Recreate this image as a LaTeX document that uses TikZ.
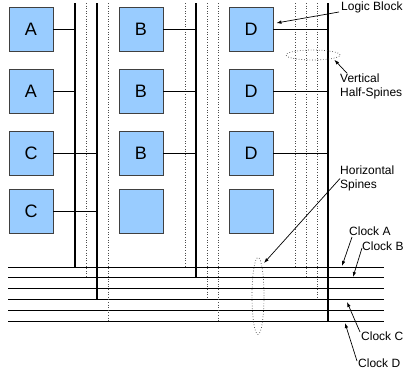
\documentclass[tikz,border=0pt]{standalone}
\usepackage{fontspec}
\setmainfont{Liberation Sans}
\usetikzlibrary{arrows.meta,shadows,shapes.geometric}

\definecolor{blockblue}{HTML}{99CCFF}

\begin{document}
\begin{tikzpicture}[x=1pt, y=-1pt,
	every node/.style={font=\fontsize{12}{14}\selectfont},
	>={Latex[length=5pt,width=3.5pt]},
	lblock/.style={draw=black!75, line width=0.8pt, fill=blockblue, minimum size=44pt, inner sep=0pt,
		font=\fontsize{18}{20}\selectfont, drop shadow={shadow xshift=1pt, shadow yshift=-1pt, opacity=0.3, fill=black}},
	spine/.style={line width=2pt},
	halfspine/.style={dotted, line width=0.6pt, black!70},
	clockline/.style={line width=0.9pt},
	tap/.style={line width=0.7pt},
	ring/.style={draw, ellipse, dotted, line width=0.7pt, black!75, inner sep=0pt},
	note/.style={align=left, inner sep=0pt, anchor=west}]
	\useasboundingbox (0,0) rectangle (405,373);
	% the clock lines
	\foreach \i/\y in {1/267,2/277.8,3/288.6,4/299.4,5/310.2,6/321}
		\draw[clockline] (8,\y) coordinate (hw\i) -- (384,\y) coordinate (he\i);
	% the vertical spines, each one down to its clock line
	\foreach \x/\h/\s [count=\k] in {75/1/spine, 86/2/halfspine, 97/4/spine, 108/6/halfspine,
		185/1/halfspine, 196/2/spine, 207/4/halfspine, 218/6/halfspine,
		295/1/halfspine, 306/2/halfspine, 317/4/halfspine, 328/6/spine} {
		\coordinate (v\k) at (\x,3);
		\draw[\s] (v\k) -- (v\k |- hw\h);
	}
	% the logic blocks
	\node[lblock] (a1) at (31,29) {A};
	\node[lblock] (a2) at (31,91) {A};
	\node[lblock] (c1) at (31,153) {C};
	\node[lblock] (c2) at (31,211) {C};
	\node[lblock] (b1) at (141,29) {B};
	\node[lblock] (b2) at (141,91) {B};
	\node[lblock] (b3) at (141,153) {B};
	\node[lblock] (e1) at (141,211) {};
	\node[lblock] (d1) at (251,29) {D};
	\node[lblock] (d2) at (251,91) {D};
	\node[lblock] (d3) at (251,153) {D};
	\node[lblock] (e2) at (251,211) {};
	% taps from the blocks to their spines
	\draw[tap] (a1.east) -- (a1.east -| v1);
	\draw[tap] (a2.east) -- (a2.east -| v1);
	\draw[tap] (c1.east) -- (c1.east -| v3);
	\draw[tap] (c2.east) -- (c2.east -| v3);
	\foreach \n in {b1,b2,b3}
		\draw[tap] (\n.east) -- (\n.east -| v6);
	\foreach \n in {d1,d2,d3}
		\draw[tap] (\n.east) -- (\n.east -| v12);
	% the dotted rings
	\node[ring, minimum width=54pt, minimum height=10pt] (vring) at (313,55) {};
	\node[ring, minimum width=12pt, minimum height=77pt] (hring) at (258,296) {};
	% labels and their arrows
	\node[note] (logic) at (341,7) {Logic Block};
	\node[note] (vhalf) at (340,86) {Vertical\\Half-Spines};
	\node[note] (hspin) at (340,178.5) {Horizontal\\Spines};
	\node[note] (clkA) at (349,231) {Clock A};
	\node[note] (clkB) at (362,246) {Clock B};
	\node[note] (clkC) at (361,336) {Clock C};
	\node[note] (clkD) at (358,363) {Clock D};
	\coordinate (hsTip) at (264,263);
	\coordinate (tipA) at (342,266);
	\coordinate (tipB) at (353,277);
	\coordinate (tipC) at (347,302);
	\coordinate (tipD) at (345,323);
	\draw[->, tap] ([xshift=-2pt,yshift=-5pt]logic.west) -- ([xshift=3pt,yshift=6pt]d1.east);
	\draw[->, tap] ([xshift=7pt]vhalf.north west) -- ([xshift=2pt,yshift=-1pt]vring.south east);
	\draw[->, tap] (hspin.west) -- (hsTip);
	\draw[->, tap] ([xshift=3pt,yshift=-6pt]clkA.west) -- (tipA);
	\draw[->, tap] ([xshift=0pt,yshift=-2pt]clkB.west) -- (tipB);
	\draw[->, tap] ([xshift=-1pt,yshift=4pt]clkC.west) -- (tipC);
	\draw[->, tap] ([xshift=-1pt,yshift=2pt]clkD.west) -- (tipD);
\end{tikzpicture}
\end{document}
